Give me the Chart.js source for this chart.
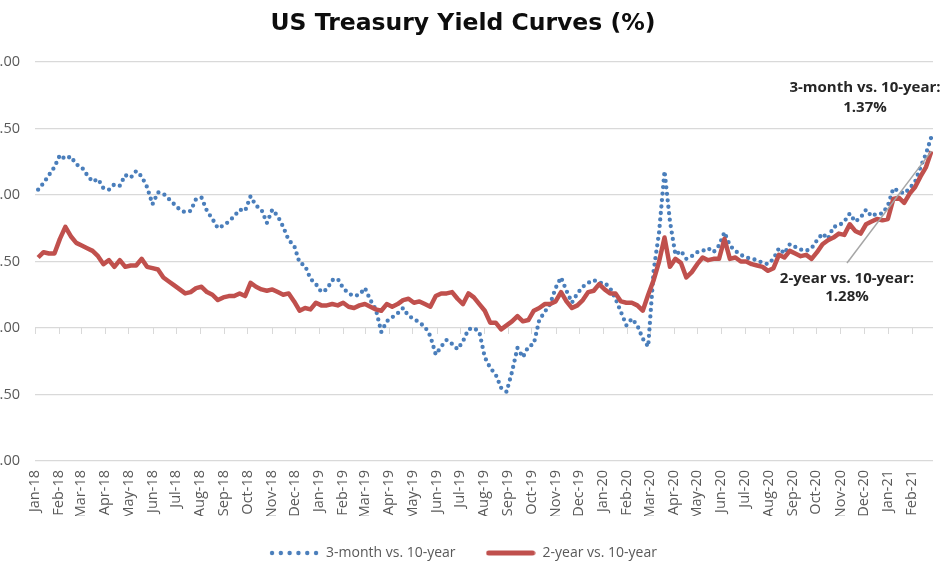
<!DOCTYPE html>
<html>
<head>
<meta charset="utf-8">
<script src="https://cdn.jsdelivr.net/npm/chart.js@4.4.0/dist/chart.umd.min.js"></script>
<style>
  html, body { margin: 0; padding: 0; background: #fff; overflow: hidden; }
  #wrap { position: absolute; left: -20px; top: 0; width: 966px; height: 570px; }
</style>
</head>
<body>
<div id="wrap"><canvas id="chart"></canvas></div>
<script>
// month tick labels on the date axis
const monthLabels = [
  'Jan-18','Feb-18','Mar-18','Apr-18','May-18','Jun-18','Jul-18','Aug-18','Sep-18','Oct-18','Nov-18','Dec-18',
  'Jan-19','Feb-19','Mar-19','Apr-19','May-19','Jun-19','Jul-19','Aug-19','Sep-19','Oct-19','Nov-19','Dec-19',
  'Jan-20','Feb-20','Mar-20','Apr-20','May-20','Jun-20','Jul-20','Aug-20','Sep-20','Oct-20','Nov-20','Dec-20',
  'Jan-21','Feb-21'
];

// weekly readings (Fridays, from 5 Jan 2018 to 26 Feb 2021)
const spread3m10y = [
  1.04, 1.09, 1.15, 1.21,  1.30, 1.27, 1.29, 1.23,  1.21, 1.15, 1.10, 1.12, 1.05,  1.04, 1.08, 1.07, 1.15,
  1.13, 1.18, 1.14, 1.06,  0.93, 1.02, 1.01, 0.97, 0.93,  0.89, 0.87, 0.88, 0.97,  0.98, 0.88, 0.82, 0.75, 0.77,
  0.80, 0.84, 0.89, 0.88,  0.99, 0.92, 0.89, 0.79,  0.89, 0.84, 0.76, 0.66, 0.62,  0.49, 0.47, 0.37, 0.33,
  0.27, 0.29, 0.36, 0.37,  0.30, 0.26, 0.24, 0.25,  0.30, 0.21, 0.14, -0.03, 0.05,  0.08, 0.11, 0.15, 0.09,
  0.07, 0.04, 0.01, -0.06, -0.20,  -0.14, -0.09, -0.12, -0.16,  -0.10, -0.01, 0.00, -0.03,
  -0.22, -0.30, -0.35, -0.45, -0.48,  -0.33, -0.15, -0.22, -0.14,  -0.12, 0.06, 0.12, 0.18,
  0.30, 0.38, 0.28, 0.19, 0.26,  0.31, 0.34, 0.36, 0.34,
  0.34, 0.30, 0.22, 0.12, 0.02,  0.07, 0.02, -0.08, -0.14,  0.43, 0.72, 1.18, 0.80,  0.55, 0.58, 0.52, 0.54,
  0.57, 0.58, 0.60, 0.57, 0.62,  0.72, 0.62, 0.58, 0.55,  0.53, 0.52, 0.51, 0.49, 0.48,  0.52, 0.60, 0.56, 0.63,
  0.61, 0.59, 0.58, 0.60,  0.66, 0.71, 0.67, 0.76, 0.77,  0.80, 0.86, 0.80, 0.83,  0.89, 0.84, 0.86, 0.86,
  0.92, 1.05, 1.03, 1.01, 1.05,  1.10, 1.21, 1.31, 1.44
];
const spread2y10y = [
  0.53, 0.57, 0.56, 0.56,  0.67, 0.76, 0.69, 0.64,  0.62, 0.60, 0.58, 0.54, 0.48,  0.51, 0.46, 0.51, 0.46,
  0.47, 0.47, 0.52, 0.46,  0.45, 0.44, 0.38, 0.35, 0.32,  0.29, 0.26, 0.27, 0.30,  0.31, 0.27, 0.25, 0.21, 0.23,
  0.24, 0.24, 0.26, 0.24,  0.34, 0.31, 0.29, 0.28,  0.29, 0.27, 0.25, 0.26, 0.20,  0.13, 0.15, 0.14, 0.19,
  0.17, 0.17, 0.18, 0.17,  0.19, 0.16, 0.15, 0.17,  0.18, 0.16, 0.14, 0.13, 0.18,  0.16, 0.18, 0.21, 0.22,
  0.19, 0.20, 0.18, 0.16, 0.24,  0.26, 0.26, 0.27, 0.22,  0.18, 0.26, 0.23, 0.18,
  0.13, 0.04, 0.04, -0.01, 0.02,  0.05, 0.09, 0.05, 0.06,  0.13, 0.15, 0.18, 0.18,
  0.20, 0.27, 0.20, 0.15, 0.17,  0.21, 0.27, 0.28, 0.33,
  0.29, 0.26, 0.26, 0.20, 0.19,  0.19, 0.17, 0.13, 0.25,  0.36, 0.50, 0.68, 0.46,  0.52, 0.49, 0.38, 0.42,
  0.48, 0.53, 0.51, 0.52, 0.52,  0.67, 0.52, 0.53, 0.50,  0.50, 0.48, 0.47, 0.46, 0.43,  0.45, 0.55, 0.53, 0.58,
  0.56, 0.54, 0.55, 0.52,  0.57, 0.63, 0.66, 0.68, 0.71,  0.70, 0.78, 0.73, 0.71,  0.78, 0.80, 0.82, 0.81,
  0.82, 0.97, 0.98, 0.94, 1.01,  1.06, 1.14, 1.21, 1.33
];

const blue = '#4a7ebb';
const red = '#c0504d';
const font = '"Open Sans"';
const titleFont = '"DejaVu Sans"';
const DAY = 86400000;
const t0 = Date.UTC(2018, 0, 1);

// x positions are days since 1 Jan 2018
const weekDays = spread3m10y.map((v, i) => (Date.UTC(2018, 0, 5 + i * 7) - t0) / DAY);
const monthStarts = monthLabels.map((l, i) => (Date.UTC(2018, i, 1) - t0) / DAY);
const xEnd = (Date.UTC(2021, 1, 28) - t0) / DAY;

function legendDots() {
  const c = document.createElement('canvas');
  c.width = 50; c.height = 6;
  const g = c.getContext('2d');
  g.fillStyle = blue;
  for (let i = 0; i < 6; i++) {
    g.beginPath(); g.arc(3 + i * 8.8, 3, 2.2, 0, Math.PI * 2); g.fill();
  }
  return c;
}
function legendBar() {
  const c = document.createElement('canvas');
  c.width = 50; c.height = 6;
  const g = c.getContext('2d');
  g.strokeStyle = red; g.lineWidth = 5; g.lineCap = 'round';
  g.beginPath(); g.moveTo(3, 3); g.lineTo(47, 3); g.stroke();
  return c;
}

const extras = {
  id: 'extras',
  beforeDatasetsDraw(chart) {
    // small tick marks hanging off the zero line
    const {ctx, scales: {x, y}} = chart;
    const y0 = y.getPixelForValue(0);
    ctx.save();
    ctx.strokeStyle = '#d9d9d9';
    ctx.lineWidth = 1;
    monthStarts.forEach(d => {
      const px = Math.round(x.getPixelForValue(d)) + 0.5;
      ctx.beginPath(); ctx.moveTo(px, y0); ctx.lineTo(px, y0 + 6); ctx.stroke();
    });
    ctx.restore();
  },
  afterDatasetsDraw(chart) {
    const {ctx, scales: {x, y}} = chart;
    const last = spread2y10y.length - 1;
    ctx.save();
    ctx.strokeStyle = '#a6a6a6';
    ctx.lineWidth = 1.5;
    ctx.beginPath();
    ctx.moveTo(867, 263);
    ctx.lineTo(x.getPixelForValue(weekDays[last]), y.getPixelForValue(spread2y10y[last]));
    ctx.stroke();

    ctx.fillStyle = '#262626';
    ctx.font = 'bold 15px ' + font;
    ctx.textAlign = 'center';
    ctx.textBaseline = 'middle';
    ctx.fillText('3-month vs. 10-year:', 885, 88);
    ctx.fillText('1.37%', 885, 108);
    ctx.fillText('2-year vs. 10-year:', 867, 279);
    ctx.fillText('1.28%', 867, 297);
    ctx.restore();
  }
};

new Chart(document.getElementById('chart'), {
  type: 'line',
  data: {
    datasets: [
      {
        label: '3-month vs. 10-year',
        data: spread3m10y.map((v, i) => ({x: weekDays[i], y: v})),
        borderColor: blue,
        borderWidth: 4.3,
        borderDash: [0, 6.5],
        borderCapStyle: 'round',
        borderJoinStyle: 'round',
        pointRadius: 0,
        tension: 0,
        order: 1
      },
      {
        label: '2-year vs. 10-year',
        data: spread2y10y.map((v, i) => ({x: weekDays[i], y: v})),
        borderColor: red,
        borderWidth: 4.5,
        borderJoinStyle: 'round',
        pointRadius: 0,
        tension: 0,
        order: 0
      }
    ]
  },
  options: {
    responsive: true,
    maintainAspectRatio: false,
    animation: false,
    layout: { padding: { left: 13, right: 13 } },
    plugins: {
      tooltip: { enabled: false },
      title: {
        display: true,
        text: 'US Treasury Yield Curves (%)',
        color: '#0d0d0d',
        font: { family: titleFont, size: 23.5, weight: 'bold' },
        padding: { top: 10, bottom: 23.8 }
      },
      legend: {
        position: 'bottom',
        labels: {
          usePointStyle: true,
          pointStyleWidth: 50,
          padding: 30,
          color: '#595959',
          font: { family: font, size: 14 },
          generateLabels: () => [
            { text: '3-month vs. 10-year', pointStyle: legendDots(), fillStyle: blue, strokeStyle: blue, lineWidth: 0, hidden: false, datasetIndex: 0, fontColor: '#595959' },
            { text: '2-year vs. 10-year', pointStyle: legendBar(), fillStyle: red, strokeStyle: red, lineWidth: 0, hidden: false, datasetIndex: 1, fontColor: '#595959' }
          ]
        }
      }
    },
    scales: {
      x: {
        type: 'linear',
        min: 0,
        max: xEnd,
        afterBuildTicks: s => { s.ticks = monthStarts.map(v => ({value: v})); },
        afterFit: s => { s.height = 55; },
        grid: { display: false, drawTicks: false },
        border: { display: false },
        ticks: {
          autoSkip: false,
          maxRotation: 90,
          minRotation: 90,
          padding: 9,
          color: '#595959',
          font: { family: font, size: 14.5 },
          callback: v => monthLabels[monthStarts.indexOf(v)]
        }
      },
      y: {
        min: -1,
        max: 2,
        afterFit: s => { s.width = 42; },
        grid: { color: '#d9d9d9', lineWidth: 1.3, drawTicks: false },
        border: { display: false },
        ticks: {
          stepSize: 0.5,
          padding: 15,
          color: '#595959',
          font: { family: font, size: 14.5 },
          callback: v => v.toFixed(2)
        }
      }
    }
  },
  plugins: [extras]
});
</script>
</body>
</html>
